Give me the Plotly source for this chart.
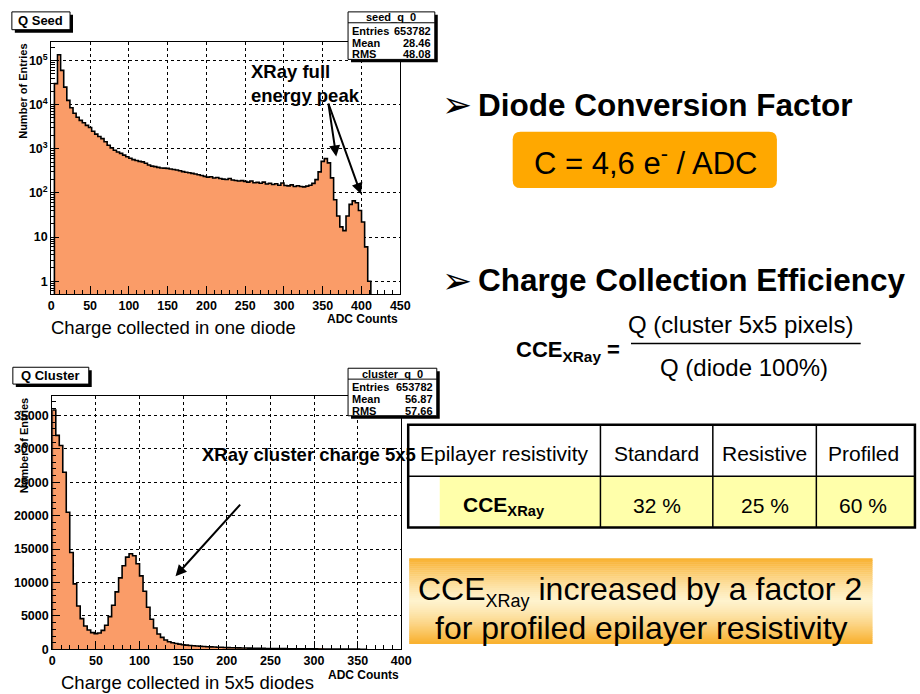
import numpy as np
import plotly.graph_objects as go

W, H = 920, 694
FONT = 'Liberation Sans, Arial, sans-serif'
HIST_FILL = 'rgb(250,156,104)'

# ---- data ----
# Q Seed: charge collected in one diode (ADC counts, log y)
seed_first_edge = 4
seed_bin_width = 4
seed_counts = [
    30000, 135000, 60000, 25000, 12500, 8500, 6400, 5200, 4400, 3900,
    3400, 3050, 2500, 2150, 1900, 1700, 1450, 1200, 1050, 930,
    850, 790, 720, 660, 610, 570, 545, 520, 505, 470,
    430, 405, 395, 380, 368, 365, 360, 350, 340, 330,
    318, 305, 295, 288, 278, 268, 258, 248, 238, 228,
    232, 218, 224, 212, 206, 202, 212, 196, 192, 186,
    190, 183, 176, 186, 170, 174, 166, 176, 160, 166,
    156, 162, 150, 168, 148, 145, 152, 140, 146, 140,
    137, 143, 150, 165, 200, 300, 520, 600, 480, 220,
    70, 30, 17, 14, 30, 55, 66, 60, 40, 22,
    6, 1,
]
seed_stats = [('Entries', '653782'), ('Mean', '28.46'), ('RMS', '48.08')]

# Q Cluster: charge collected in 5x5 diodes (ADC counts, linear y)
cluster_first_edge = 0
cluster_bin_width = 4
cluster_counts = [
    35800, 32000, 30500, 26500, 20500, 14500, 9800, 6500, 4600, 3500,
    2900, 2500, 2350, 2450, 2850, 3600, 4900, 6600, 8600, 10700,
    12500, 13800, 14300, 14000, 12800, 11000, 8700, 6300, 4500, 3200,
    2300, 1800, 1400, 1150, 1000, 880, 780, 700, 640, 590,
    540, 500, 460, 430, 400, 370, 350, 330, 310, 290,
    270, 250, 240, 225, 210, 200, 190, 180, 170, 160,
    150, 140, 135, 130, 120, 115, 110, 105, 100, 95,
    90, 85, 80, 78, 75, 70, 68, 65, 60, 58,
    55, 52, 50, 48, 45, 42, 40, 35, 30, 25,
]
cluster_stats = [('Entries', '653782'), ('Mean', '56.87'), ('RMS', '57.66')]

seed_decades = [1, 10, 100, 1000, 10000, 100000]
seed_decade_labels = ['1', '10', '10<sup>2</sup>', '10<sup>3</sup>', '10<sup>4</sup>', '10<sup>5</sup>']

table_header = ['Epilayer resistivity', 'Standard', 'Resistive', 'Profiled']
table_values = ['<b>CCE<sub>XRay</sub></b>', '32 %', '25 %', '60 %']


def px(x):
    return x / W


def py(y):
    return 1 - y / H


fig = go.Figure()
shapes = []


def add_hist(first, width, counts, floor, xa, ya):
    edges = first + width * np.arange(len(counts) + 1)
    centers = edges[:-1] + width / 2
    fig.add_trace(go.Bar(x=centers, y=counts, width=width, xaxis=xa, yaxis=ya,
                         marker=dict(color=HIST_FILL, line_width=0),
                         showlegend=False, hoverinfo='skip'))
    # ROOT-style step outline on top of the fill
    xs = [edges[0]] + list(edges) + [edges[-1]]
    ys = [floor] + list(counts) + [counts[-1], floor]
    fig.add_trace(go.Scatter(x=xs, y=ys, mode='lines', line=dict(color='black', width=1.6, shape='hv'),
                             xaxis=xa, yaxis=ya, showlegend=False, hoverinfo='skip'))


add_hist(seed_first_edge, seed_bin_width, seed_counts, 0.05, 'x', 'y')
add_hist(cluster_first_edge, cluster_bin_width, cluster_counts, 0, 'x2', 'y2')

tickfont = dict(family=FONT, size=12.5, color='black', weight='bold')
ax_common = dict(showline=True, mirror=True, linecolor='black', linewidth=1.2,
                 ticks='inside', tickcolor='black', ticklen=8, tickwidth=1,
                 showgrid=True, gridcolor='black', griddash='dot', gridwidth=1,
                 zeroline=False, tickfont=tickfont, fixedrange=True)

minor_log = [k * 10 ** d for d in range(-1, 6) for k in range(2, 10)]

fig.update_layout(
    width=W, height=H, margin=dict(l=0, r=0, t=0, b=0),
    paper_bgcolor='white', plot_bgcolor='white',
    bargap=0, barmode='overlay', showlegend=False,
    font=dict(family=FONT, color='black'),
    xaxis=dict(ax_common, domain=[px(49), px(403)], range=[0, 450], anchor='y',
               tickmode='linear', tick0=0, dtick=50,
               minor=dict(ticks='inside', ticklen=4, tickcolor='black', dtick=10)),
    yaxis=dict(ax_common, domain=[py(297), py(42)], type='log', range=[-0.29, 5.43], anchor='x',
               tickmode='array', tickvals=seed_decades, ticktext=seed_decade_labels,
               minor=dict(ticks='inside', ticklen=4, tickcolor='black', tickmode='array',
                          tickvals=minor_log)),
    xaxis2=dict(ax_common, domain=[px(50), px(404)], range=[0, 400], anchor='y2',
                tickmode='linear', tick0=0, dtick=50,
                minor=dict(ticks='inside', ticklen=4, tickcolor='black', dtick=10)),
    yaxis2=dict(ax_common, domain=[py(656), py(400)], range=[0, 37900], anchor='x2',
                tickmode='linear', tick0=0, dtick=5000, tickformat='d',
                minor=dict(ticks='inside', ticklen=4, tickcolor='black', dtick=1000)),
)


def rect(x0, y0, x1, y1, fill='rgba(0,0,0,0)', line='black', lw=1.0):
    shapes.append(dict(type='rect', xref='paper', yref='paper', layer='above',
                       x0=px(x0), x1=px(x1), y0=py(y1), y1=py(y0), fillcolor=fill,
                       line=dict(color=line, width=lw)))


def hline(x0, x1, y, lw=1.0, color='black'):
    shapes.append(dict(type='line', xref='paper', yref='paper', layer='above',
                       x0=px(x0), x1=px(x1), y0=py(y), y1=py(y), line=dict(color=color, width=lw)))


def vline(x, y0, y1, lw=1.0, color='black'):
    shapes.append(dict(type='line', xref='paper', yref='paper', layer='above',
                       x0=px(x), x1=px(x), y0=py(y0), y1=py(y1), line=dict(color=color, width=lw)))


def text(x, y, s, size, bold=False, xanchor='center', yanchor='middle', angle=0, align='center'):
    fig.add_annotation(x=px(x), y=py(y), xref='paper', yref='paper', text=s, showarrow=False,
                       xanchor=xanchor, yanchor=yanchor, textangle=angle, align=align,
                       font=dict(family=FONT, size=size, color='black',
                                 weight='bold' if bold else 'normal'))


def arrow(tx, ty, hx, hy):
    fig.add_annotation(x=px(hx), y=py(hy), xref='paper', yref='paper', text='',
                       showarrow=True, ax=tx - hx, ay=ty - hy, arrowhead=2, arrowsize=1.1,
                       arrowwidth=2, arrowcolor='black', standoff=0)


def root_box(x0, y0, x1, y1):
    rect(x0 + 3, y0 + 3, x1 + 3, y1 + 3, fill='black', lw=0)
    rect(x0, y0, x1, y1, fill='white', lw=1)


def stat_box(x0, y0, x1, name, stats):
    y1 = y0 + 48
    root_box(x0, y0, x1, y1)
    hline(x0, x1, y0 + 11)
    text((x0 + x1) / 2, y0 + 5.5, name, 11, bold=True)
    for i, (k, v) in enumerate(stats):
        yy = y0 + 19 + i * 12
        text(x0 + 2, yy, k, 11, bold=True, xanchor='left')
        text(x1 - 2, yy, v, 11, bold=True, xanchor='right')


# title boxes
root_box(9, 12, 68, 30)
text(38.5, 21, 'Q Seed', 13, bold=True)
root_box(10, 371, 87, 388)
text(48.5, 379.5, 'Q Cluster', 13, bold=True)

# statistics boxes
stat_box(350, 12, 438, 'seed_q_0', seed_stats)
stat_box(350, 372, 440, 'cluster_q_0', cluster_stats)

# axis titles and captions
text(20, 42, 'Number of Entries', 11, bold=True, yanchor='top', angle=-90)
text(22, 400, 'Number of Entries', 11, bold=True, yanchor='top', angle=-90)
text(403, 322, 'ADC Counts', 12, bold=True, xanchor='right')
text(404, 682, 'ADC Counts', 12, bold=True, xanchor='right')
text(47, 331, 'Charge collected in one diode', 18.5, xanchor='left')
text(57, 689, 'Charge collected in 5x5 diodes', 18.5, xanchor='left')

# plot annotations
text(250, 84, 'XRay full<br>energy peak', 18.5, bold=True, xanchor='left', align='left')
arrow(330, 104, 338, 158)
arrow(330, 104, 363, 196)
arrow(241, 509, 175, 582)

# right column: bullets
text(443, 106, '➢', 36, xanchor='left')
text(480, 106, 'Diode Conversion Factor', 31.5, bold=True, xanchor='left')
text(443, 283, '➢', 36, xanchor='left')
text(480, 283, 'Charge Collection Efficiency', 31.5, bold=True, xanchor='left')

# rounded orange box
bx0, by0, bx1, by1, r = 517, 133, 785, 190, 8
path = (f'M {px(bx0 + r)},{py(by0)} L {px(bx1 - r)},{py(by0)} Q {px(bx1)},{py(by0)} {px(bx1)},{py(by0 + r)} '
        f'L {px(bx1)},{py(by1 - r)} Q {px(bx1)},{py(by1)} {px(bx1 - r)},{py(by1)} '
        f'L {px(bx0 + r)},{py(by1)} Q {px(bx0)},{py(by1)} {px(bx0)},{py(by1 - r)} '
        f'L {px(bx0)},{py(by0 + r)} Q {px(bx0)},{py(by0)} {px(bx0 + r)},{py(by0)} Z')
shapes.append(dict(type='path', xref='paper', yref='paper', path=path, fillcolor='#FFA800',
                   line=dict(width=0), layer='above'))
text(652, 163, 'C = 4,6 e<sup>-</sup> / ADC', 31)

# CCE formula
text(628, 355, '<b>CCE<sub>XRay</sub> =</b>', 22, xanchor='right')
hline(637, 870, 347, lw=1.5)
text(748, 328, 'Q (cluster 5x5 pixels)', 24)
text(752, 371, 'Q (diode 100%)', 24)

# table
rect(443, 481, 925, 533, fill='#FFFFAA', lw=0)
rect(411, 429, 925, 533, lw=2.5)
hline(411, 925, 481, lw=1.5)
col_edges = [411, 606, 720, 825, 920]
for xc in col_edges[1:-1]:
    vline(xc, 429, 533, lw=1.5)
for i in range(4):
    cx = (col_edges[i] + col_edges[i + 1]) / 2
    text(cx, 458, table_header[i], 21)
    text(cx, 511, table_values[i], 21)

# gradient box
gx0, gy0, gx1, gy1 = 412, 564, 882, 650
n_strips = 43
for i in range(n_strips):
    s0 = gy0 + (gy1 - gy0) * i / n_strips
    s1 = gy0 + (gy1 - gy0) * (i + 1) / n_strips
    t = abs((s0 + s1) / 2 - (gy0 + gy1) / 2) / ((gy1 - gy0) / 2)
    t = t ** 1.3
    c = [int(255 + (249 - 255) * t), int(243 + (176 - 243) * t), int(205 + (45 - 205) * t)]
    rect(gx0, s0, gx1, s1 + 0.6, fill=f'rgb({c[0]},{c[1]},{c[2]})', lw=0)

# "XRay cluster charge 5x5" drawn after table so it sits on top
text(200, 459, 'XRay cluster charge 5x5', 18.5, bold=True, xanchor='left')
text(646, 597, 'CCE<sub><span style="font-size:18px">XRay</span></sub> increased by a factor 2', 32)
text(648, 634, 'for profiled epilayer resistivity', 32)

fig.update_layout(shapes=shapes)

fig.write_html('out.html', config={'displayModeBar': False},
               post_script="document.body.style.margin='0';document.body.style.overflow='hidden';")
